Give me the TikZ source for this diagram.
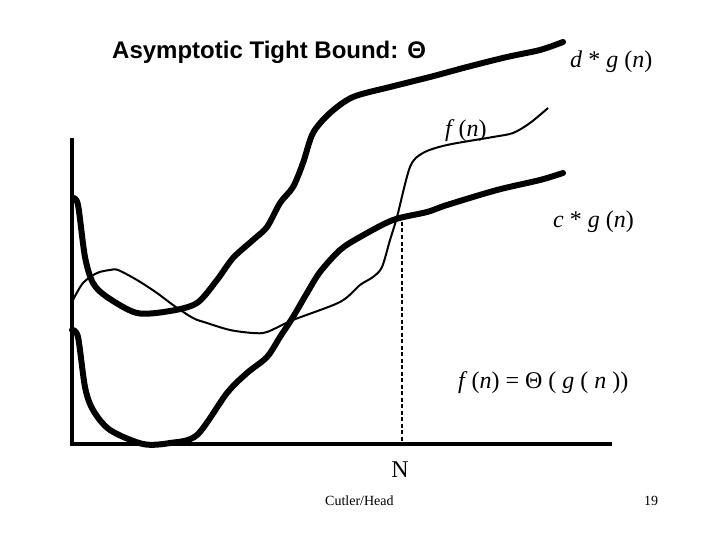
\documentclass[tikz,border=0pt]{standalone}
\usepackage{fontspec}
\setmainfont{Liberation Serif}
\setsansfont{Liberation Sans}
\begin{document}
\begin{tikzpicture}[x=1pt,y=-1pt,
        bound/.style={line width=6pt,line cap=round,line join=round},
        lbl/.style={anchor=base west,inner sep=0pt,font=\fontsize{24}{28}\selectfont}]
        \useasboundingbox (0,0) rectangle (720,540);
        % axes and the point N
        \draw[line width=4.5pt] (72,138) -- (72,444) -- (612,444);
        \coordinate (top) at (402,222);
        \coordinate (foot) at (402,442);
        \draw[line width=1.6pt,dash pattern=on 4pt off 2.5pt] (top) -- (foot);
        % d * g(n)
        \draw[bound] plot[smooth,tension=0.5] coordinates {(73,198) (78,205) (85,257) (93,283) (107,297) (137,313) (170,311) (197,303) (217,280) (233,258) (253,240) (267,227) (280,203) (293,187) (303,163) (313,133) (330,113) (353,97) (390,87) (430,77) (467,67) (507,57) (540,50) (563,42)};
        % c * g(n)
        \draw[bound] plot[smooth,tension=0.5] coordinates {(72,330) (78,337) (85,387) (93,410) (110,430) (143,444) (170,443) (197,435) (227,393) (247,373) (267,357) (280,337) (293,317) (307,293) (320,272) (340,250) (360,237) (393,220) (427,212) (447,205) (497,190) (540,180) (563,173)};
        % f(n)
        \draw[line width=2pt,line join=round] plot[smooth,tension=0.5] coordinates {(73,300) (83,283) (97,273) (110,270) (118,270) (137,280) (157,293) (173,305) (193,318) (207,323) (230,330) (253,333) (267,332) (293,320) (340,302) (360,285) (373,277) (382,267) (390,240) (397,217) (410,167) (423,153) (447,145) (493,137) (513,133) (530,123) (548,108)};
        % labels
        \node[anchor=base west,inner sep=0pt,font=\sffamily\bfseries\fontsize{24}{28}\selectfont] (title) at (112,59) {Asymptotic Tight Bound: Θ};
        \node[lbl] (dg) at (570,68) {\textit{d} * \textit{g} (\textit{n})};
        \node[lbl] (fn) at (445,137) {\textit{f}\,(\textit{n})};
        \node[lbl] (cg) at (553,227) {\textit{c} * \textit{g} (\textit{n})};
        \node[lbl] (theta) at (458,388) {\textit{f}\,(\textit{n}) = Θ ( \textit{g} ( \textit{n} ))};
        \node[lbl,anchor=base] (N) at (400,477) {N};
        \node[lbl,font=\fontsize{14}{16}\selectfont] (author) at (325,505) {Cutler/Head};
        \node[lbl,font=\fontsize{14}{16}\selectfont] (page) at (644,505) {19};
\end{tikzpicture}
\end{document}
